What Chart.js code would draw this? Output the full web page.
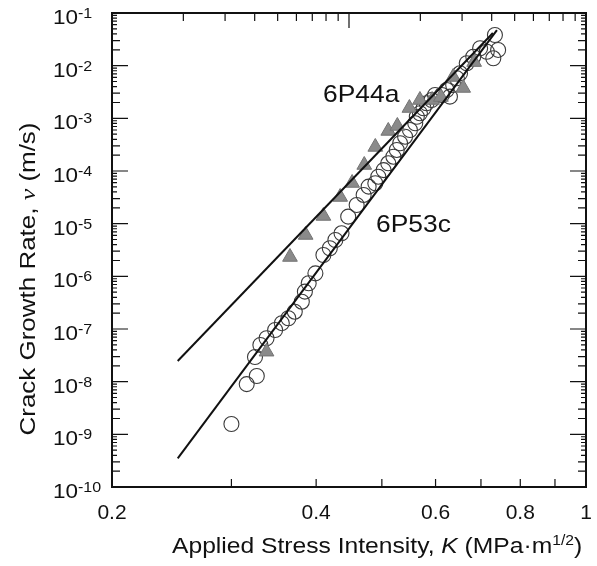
<!DOCTYPE html>
<html>
<head>
<meta charset="utf-8">
<script src="https://cdn.jsdelivr.net/npm/chart.js@4.4.1/dist/chart.umd.min.js"></script>
<style>
  html, body { margin: 0; padding: 0; background: #fff; }
</style>
</head>
<body>
<canvas id="chart-crack" width="597" height="566"></canvas>
<script>
// 6P53c - open circles (K in MPa.m^1/2, v in m/s)
const k53 = [0.300, 0.316, 0.327, 0.325, 0.331, 0.338, 0.348, 0.356, 0.364, 0.372,
             0.381, 0.385, 0.390, 0.399, 0.410, 0.419, 0.427, 0.436, 0.446, 0.459,
             0.470, 0.478, 0.489, 0.494, 0.503, 0.511, 0.520, 0.526, 0.532, 0.541,
             0.550, 0.560, 0.563, 0.569, 0.576, 0.582, 0.592, 0.599, 0.613, 0.630,
             0.623, 0.637, 0.645, 0.652, 0.667, 0.682, 0.698, 0.714, 0.730, 0.734, 0.742];
const v53 = [1.57e-9, 9.0e-9, 1.28e-8, 2.94e-8, 4.98e-8, 6.67e-8, 9.57e-8, 1.29e-7, 1.60e-7, 2.13e-7,
             3.30e-7, 5.12e-7, 7.38e-7, 1.14e-6, 2.54e-6, 3.41e-6, 4.90e-6, 6.56e-6, 1.36e-5, 2.26e-5,
             3.51e-5, 5.04e-5, 5.85e-5, 7.80e-5, 1.04e-4, 1.40e-4, 1.87e-4, 2.51e-4, 3.36e-4, 4.48e-4,
             6.01e-4, 8.05e-4, 1.07e-3, 1.25e-3, 1.55e-3, 1.93e-3, 2.23e-3, 2.77e-3, 2.77e-3, 2.58e-3,
             3.45e-3, 4.30e-3, 5.75e-3, 7.16e-3, 1.11e-2, 1.48e-2, 2.14e-2, 1.84e-2, 1.38e-2, 3.82e-2, 1.99e-2];

// 6P44a - grey triangles
const k44 = [0.338, 0.366, 0.386, 0.410, 0.434, 0.452, 0.471, 0.489, 0.511, 0.527,
             0.549, 0.569, 0.593, 0.611, 0.637, 0.659, 0.684];
const v44 = [3.71e-8, 2.33e-6, 6.10e-6, 1.40e-5, 3.21e-5, 5.92e-5, 1.30e-4, 2.86e-4, 5.76e-4, 7.16e-4,
             1.57e-3, 2.23e-3, 2.23e-3, 2.54e-3, 6.09e-3, 3.77e-3, 1.17e-2];

// fitted power-law lines (end points)
const fitK44 = [0.250, 0.729];
const fitV44 = [2.47e-8, 4.17e-2];
const fitK53 = [0.250, 0.739];
const fitV53 = [3.5e-10, 4.75e-2];

// axes
const xLabels = [0.2, 0.4, 0.6, 0.8, 1];
const xMinor = [0.3, 0.5, 0.7, 0.9];
const yExps = [-10, -9, -8, -7, -6, -5, -4, -3, -2, -1];
const topTicks = [1, 2, 3, 4, 5, 6, 7, 8, 9, 10, 20, 30, 40, 50, 60, 70, 80, 90, 100];

const pts = (xs, ys) => xs.map((x, i) => ({ x: x, y: ys[i] }));

const SANS = '"Liberation Sans", Arial, Helvetica, sans-serif';

// draw a row of text pieces, each {t, font, dy}; sx stretches horizontally
function textRun(ctx, parts, x, y, sx, angle, align) {
  let w = 0;
  parts.forEach(p => { ctx.font = p.font; p.w = ctx.measureText(p.t).width * sx; w += p.w; });
  ctx.save();
  ctx.translate(x, y);
  if (angle) ctx.rotate(angle);
  let cx = align === 'center' ? -w / 2 : 0;
  parts.forEach(p => {
    ctx.save();
    ctx.font = p.font;
    ctx.translate(cx, p.dy || 0);
    ctx.scale(sx, 1);
    ctx.textAlign = 'left';
    ctx.textBaseline = 'alphabetic';
    ctx.fillText(p.t, 0, 0);
    ctx.restore();
    cx += p.w;
  });
  ctx.restore();
}

const frame = {
  id: 'frame',
  afterDatasetsDraw(chart) {
    const { ctx, chartArea: a, scales } = chart;
    const x = scales.x, y = scales.y, xt = scales.xTop;
    ctx.save();
    ctx.strokeStyle = '#111';
    ctx.fillStyle = '#111';

    // inward ticks
    ctx.lineWidth = 1.2;
    ctx.beginPath();
    xLabels.concat(xMinor).forEach(k => {
      const px = x.getPixelForValue(k);
      ctx.moveTo(px, a.bottom); ctx.lineTo(px, a.bottom - 8);
    });
    topTicks.forEach(t => {
      const px = xt.getPixelForValue(t);
      const len = t === 10 ? 15 : 8;
      ctx.moveTo(px, a.top); ctx.lineTo(px, a.top + len);
    });
    yExps.forEach(e => {
      for (let m = 1; m <= 9; m++) {
        const val = m * Math.pow(10, e);
        if (val > 0.1 * 1.0001) continue;
        const py = y.getPixelForValue(val);
        const len = m === 1 ? 16 : (m <= 3 ? 8 : 5);
        ctx.moveTo(a.left, py); ctx.lineTo(a.left + len, py);
        ctx.moveTo(a.right, py); ctx.lineTo(a.right - len, py);
      }
    });
    ctx.stroke();

    // box
    ctx.lineWidth = 2;
    ctx.strokeRect(a.left, a.top, a.right - a.left, a.bottom - a.top);

    // x tick labels
    xLabels.forEach(k => {
      textRun(ctx, [{ t: String(k), font: '21px ' + SANS }], x.getPixelForValue(k), 519, 1.0, 0, 'center');
    });

    // y tick labels 10^n
    yExps.forEach(e => {
      const py = y.getPixelForValue(Math.pow(10, e));
      textRun(ctx, [
        { t: '10', font: '21px ' + SANS },
        { t: '-' + Math.abs(e), font: '15px ' + SANS, dy: -6 }
      ], 53, py + 11, 1.07, 0, 'left');
    });

    // axis titles
    textRun(ctx, [
      { t: 'Applied Stress Intensity, ', font: '22px ' + SANS },
      { t: 'K', font: 'italic 22px ' + SANS },
      { t: ' (MPa\u00b7m', font: '22px ' + SANS },
      { t: '1/2', font: '14px ' + SANS, dy: -8 },
      { t: ')', font: '22px ' + SANS }
    ], 172, 553, 1.12, 0, 'left');

    textRun(ctx, [
      { t: 'Crack Growth Rate, ', font: '22px ' + SANS },
      { t: 'v', font: 'italic 22px "Liberation Serif", serif' },
      { t: ' (m/s)', font: '22px ' + SANS }
    ], 35, 279, 1.18, -Math.PI / 2, 'center');

    // series labels
    textRun(ctx, [{ t: '6P44a', font: '24px ' + SANS }], 323, 102, 1.1, 0, 'left');
    textRun(ctx, [{ t: '6P53c', font: '24px ' + SANS }], 376, 232, 1.1, 0, 'left');

    ctx.restore();
  }
};

new Chart(document.getElementById('chart-crack'), {
  type: 'scatter',
  data: {
    datasets: [
      {
        label: '6P44a fit',
        data: pts(fitK44, fitV44),
        showLine: true,
        borderColor: '#111',
        borderWidth: 2,
        pointRadius: 0,
        order: 0
      },
      {
        label: '6P53c fit',
        data: pts(fitK53, fitV53),
        showLine: true,
        borderColor: '#111',
        borderWidth: 2,
        pointRadius: 0,
        order: 0
      },
      {
        label: '6P44a',
        data: pts(k44, v44),
        pointStyle: 'triangle',
        pointRadius: 8.5,
        backgroundColor: '#8a8a8a',
        borderColor: '#737373',
        borderWidth: 1,
        order: 1
      },
      {
        label: '6P53c',
        data: pts(k53, v53),
        pointStyle: 'circle',
        pointRadius: 7.5,
        backgroundColor: 'rgba(255,255,255,0)',
        borderColor: '#3a3a3a',
        borderWidth: 1.1,
        order: 2
      }
    ]
  },
  options: {
    responsive: false,
    animation: false,
    layout: { autoPadding: false, padding: { left: 112, top: 13, right: 11, bottom: 79 } },
    plugins: { legend: { display: false }, tooltip: { enabled: false } },
    scales: {
      x: { type: 'logarithmic', min: 0.2, max: 1, display: false },
      xTop: { type: 'logarithmic', axis: 'x', position: 'top', min: 1, max: 100, display: false },
      y: { type: 'logarithmic', min: 1e-10, max: 1e-1, display: false }
    }
  },
  plugins: [frame]
});
</script>
</body>
</html>
